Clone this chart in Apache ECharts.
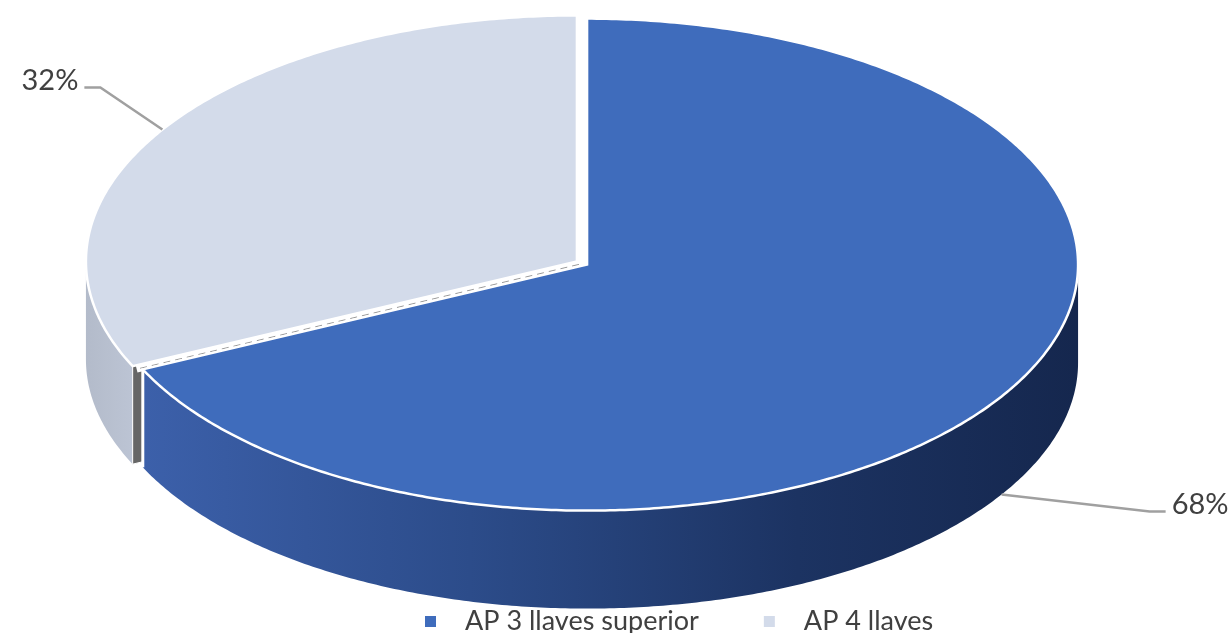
<!DOCTYPE html>
<html><head><meta charset="utf-8">
<style>html,body{margin:0;padding:0;background:#fff}#c{width:1229px;height:633px}</style>
<script src="https://cdn.jsdelivr.net/npm/echarts@6/dist/echarts.min.js"></script>
</head><body><div id="c"></div>
<script>
var categories = ['AP 3 llaves superior', 'AP 4 llaves'];
var shares = [68, 32];
var percentLabels = ['68%', '32%'];
var topColors = ['#3f6cbc', '#d3dbea'];
var wallStops = [
  [[0, '#3c60aa'], [0.35, '#2c4c8a'], [0.7, '#1c3362'], [1, '#15274e']],
  [[0, '#b3bbca'], [1, '#bcc4d4']]
];

var chart = echarts.init(document.getElementById('c'));
var CX = 582, CY = 263, RX = 491, RY = 246, DEPTH = 98, EXPLODE = 6;
var total = shares.reduce(function (a, b) { return a + b; }, 0);

function point(c, t, dy) {
  return [c[0] + RX * Math.sin(t), c[1] - RY * Math.cos(t) + (dy || 0)];
}
function arc(c, a, b, dy) {
  var pts = [], n = Math.max(2, Math.ceil(Math.abs(b - a) / 0.01));
  for (var i = 0; i <= n; i++) pts.push(point(c, a + (b - a) * i / n, dy));
  return pts;
}

function sliceGroup(idx) {
  var start = 0;
  for (var i = 0; i < idx; i++) start += shares[i] / total * Math.PI * 2;
  var end = start + shares[idx] / total * Math.PI * 2;
  var mid = (start + end) / 2;
  var c = [CX + EXPLODE * Math.sin(mid), CY - EXPLODE * 0.5 * Math.cos(mid)];
  var children = [];

  // visible outer wall: the part of the rim on the front half of the ellipse
  var wa = Math.max(start, Math.PI / 2), wb = Math.min(end, Math.PI * 1.5);
  if (wb > wa) {
    var rimTop = arc(c, wa, wb, 0), rimBot = arc(c, wb, wa, DEPTH);
    var xs = rimTop.map(function (p) { return p[0]; });
    children.push({
      type: 'polygon',
      shape: { points: rimTop.concat(rimBot) },
      style: {
        fill: new echarts.graphic.LinearGradient(Math.min.apply(null, xs), 0, Math.max.apply(null, xs), 0, wallStops[idx].map(function (s) { return { offset: s[0], color: s[1] }; }), true),
        stroke: null
      }
    });
    // white edge down the wall where the slice is cut
    if (end < Math.PI * 1.5) {
      children.push({
        type: 'line',
        shape: { x1: point(c, end, 0)[0], y1: point(c, end, 0)[1], x2: point(c, end, DEPTH)[0], y2: point(c, end, DEPTH)[1] },
        style: { stroke: '#ffffff', lineWidth: 3 }
      });
    }
  }
  // cut face seen through the gap between the slices
  if (start > Math.PI / 2 && start < Math.PI * 1.5) {
    var e0 = point(c, start, 0), e1 = point(c, start, DEPTH);
    children.push({
      type: 'polygon',
      shape: { points: [c, e0, e1, [c[0], c[1] + DEPTH]] },
      style: { fill: '#666666', stroke: '#ffffff', lineWidth: 1 }
    });
    var gapFrom = [c[0] + 2, c[1] + 3], gapTo = [e0[0] + 4, e0[1] + 3];
    children.push({
      type: 'line',
      shape: { x1: gapFrom[0], y1: gapFrom[1], x2: gapTo[0], y2: gapTo[1] },
      style: { stroke: '#ffffff', lineWidth: 7 }
    });
    children.push({
      type: 'line',
      shape: { x1: gapFrom[0], y1: gapFrom[1], x2: gapTo[0], y2: gapTo[1] },
      style: { stroke: '#9a9a9a', lineWidth: 1, lineDash: [7, 5] }
    });
  }
  // top face
  children.push({
    type: 'polygon',
    shape: { points: [c].concat(arc(c, start, end, 0)) },
    style: { fill: topColors[idx], stroke: '#ffffff', lineWidth: 2.5, lineJoin: 'miter' }
  });
  // leader line and percentage label, anchored at the slice's mid angle
  var rightSide = Math.sin(mid) > 0;
  var anchor = point(c, mid, rightSide ? DEPTH : 0);
  var sign = rightSide ? 1 : -1;
  var elbow = rightSide ? [anchor[0] + 148, anchor[1] + 17] : [anchor[0] - 62, anchor[1] - 42];
  var tail = [elbow[0] + sign * 16, elbow[1]];
  children.push({
    type: 'polyline',
    shape: { points: [anchor, elbow, tail] },
    style: { fill: null, stroke: '#a0a0a0', lineWidth: 2.5 }
  });
  children.push({
    type: 'text',
    style: {
      x: tail[0] + sign * 6, y: tail[1] - 7,
      text: percentLabels[idx],
      fill: '#404040',
      font: '29px Lato, "Open Sans", sans-serif',
      align: rightSide ? 'left' : 'right',
      verticalAlign: 'middle'
    }
  });
  return { type: 'group', children: children };
}

function makeSeries(idx) {
  return {
    type: 'custom',
    name: categories[idx],
    coordinateSystem: 'none',
    silent: true,
    animation: false,
    z: idx === 0 ? 3 : 2,
    itemStyle: { color: topColors[idx] },
    data: [shares[idx]],
    renderItem: function () { return sliceGroup(idx); }
  };
}

chart.setOption({
  backgroundColor: '#ffffff',
  animation: false,
  legend: {
    left: 420,
    top: 603,
    icon: 'rect',
    itemWidth: 11,
    itemHeight: 11,
    itemGap: 65,
    selectedMode: false,
    textStyle: {
      color: '#404040',
      fontFamily: 'Lato, "Open Sans", sans-serif',
      fontSize: 27,
      padding: [0, 0, 0, 24]
    },
    data: categories
  },
  series: [makeSeries(0), makeSeries(1)]
});
</script></body></html>
